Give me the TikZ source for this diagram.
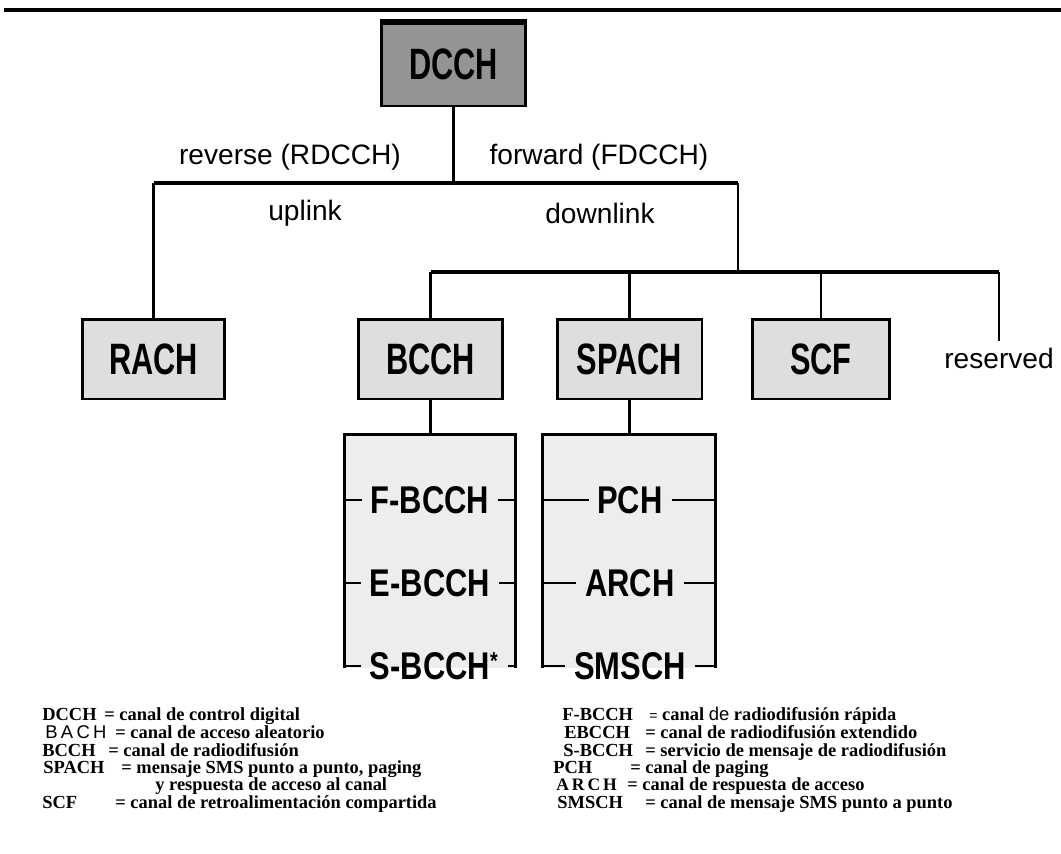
\documentclass[tikz,border=0pt]{standalone}
\usepackage{fontspec}
\setmainfont{Liberation Serif}
\newfontfamily\boxfont[FakeStretch=0.7]{Liberation Sans}
\newfontfamily\itemfont[FakeStretch=0.8]{Liberation Sans}
\newfontfamily\lblfont{Liberation Sans}
\newfontfamily\widefont[LetterSpace=18]{Liberation Sans}
\usetikzlibrary{positioning,calc}

\begin{document}
\begin{tikzpicture}[x=0.02cm, y=-0.02cm,
    chan/.style={draw, line width=1.7pt, fill=black!13, minimum width=2.86cm, minimum height=1.6cm, inner sep=0pt, font=\boxfont\bfseries\fontsize{25}{28}\selectfont},
    list/.style={fill=black!7, minimum width=3.4cm, minimum height=4.66cm, inner sep=0pt},
    sub/.style={inner xsep=0.17cm, inner ysep=0pt, font=\itemfont\bfseries\fontsize{22}{24}\selectfont},
    lbl/.style={font=\lblfont\fontsize{16}{18}\selectfont},
    conn/.style={line width=1.5pt},
    bar/.style={line width=2.4pt},
    key/.style={anchor=base west, inner sep=0pt, font=\bfseries\fontsize{10.5}{12}\selectfont},
    note/.style={anchor=base west, inner sep=0pt, font=\bfseries\fontsize{10.5}{12}\selectfont}
]
\useasboundingbox (0,0) rectangle (1061,853);
\draw[line width=1.9pt] (4,10) -- (1061,10);

\node[chan, fill=black!42, minimum width=2.9cm, minimum height=1.66cm] (dcch) at (453.5,64.5) {DCCH};
\draw[line width=3pt] (dcch.north west) -- (dcch.north east);

\node[lbl] (rev) at (290,157) {reverse (RDCCH)};
\node[lbl] (fwd) at (599,157) {forward (FDCCH)};
\node[lbl] (up) at (305,213) {uplink};
\node[lbl] (down) at (600,213) {downlink};

\coordinate (fork) at (453.5,183);
\coordinate (split) at (738,272);

\node[chan] (rach) at (153.5,359) {RACH};
\node[chan, minimum width=2.9cm] (bcch) at (430.5,359) {BCCH};
\node[chan, minimum width=2.9cm] (spach) at (629.5,359) {SPACH};
\node[chan, minimum width=2.74cm] (scf) at (821,359) {SCF};
\node[lbl] (resv) at (999,358) {reserved};

\draw[conn] (dcch.south) -- (fork);
\draw[bar] (rach.north |- fork) -- (fork -| split);
\draw[conn] (rach.north |- fork) -- (rach.north);
\draw[conn] (fork -| split) -- (split);
\draw[bar] (bcch.north |- split) -- (split -| resv.north);
\foreach \n in {bcch,spach,scf,resv}
    \draw[conn] (\n.north |- split) -- (\n.north);

\node[list] (blist) at (430,551.5) {};
\node[list, minimum width=3.44cm] (slist) at (629,551.5) {};
\draw[conn] (bcch.south) -- (bcch.south |- blist.north);
\draw[conn] (spach.south) -- (spach.south |- slist.north);
\draw[conn] (blist.south west) -- (blist.north west) -- (blist.north east) -- (blist.south east);
\draw[conn] (slist.south west) -- (slist.north west) -- (slist.north east) -- (slist.south east);

\node[sub] (fbcch) at (430,500) {F-BCCH};
\node[sub] (ebcch) at (430,583) {E-BCCH};
\node[sub] (sbcch) at (430,666) {S-BCCH\rlap{\raisebox{0.5ex}{\fontsize{14}{14}\selectfont*}}};
\node[sub] (pch) at (630,500) {PCH};
\node[sub] (arch) at (630,583) {ARCH};
\node[sub] (smsch) at (630,666) {SMSCH};
\foreach \n in {fbcch,ebcch}
    \draw[conn] (blist.west |- \n) -- (\n.west) (\n.east) -- (blist.east |- \n);
\draw[conn] (blist.west |- sbcch) -- (sbcch.west) ($(sbcch.east)+(9,0)$) -- (blist.east |- sbcch);
\foreach \n in {pch,arch,smsch}
    \draw[conn] (slist.west |- \n) -- (\n.west) (\n.east) -- (slist.east |- \n);

\node[key] (kdcch) at (42,720) {DCCH};
\node[note] (ddcch) at (104,720) {= canal de control digital};
\node[key, font=\widefont\fontsize{10.5}{12}\selectfont] (kbach) at (45,738) {BACH};
\node[note] (dbach) at (115,738) {= canal de acceso aleatorio};
\node[key] (kbcch) at (42,756) {BCCH};
\node[note] (dbcch) at (108,756) {= canal de radiodifusión};
\node[key] (kspach) at (43,773) {SPACH};
\node[note] (dspach) at (121,773) {= mensaje SMS punto a punto, paging};
\node[note] (dspach2) at (155,790) {y respuesta de acceso al canal};
\node[key] (kscf) at (42,808) {SCF};
\node[note] (dscf) at (115,808) {= canal de retroalimentación compartida};

\node[key] (kfbcch) at (562,720) {F-BCCH};
\node[note] (dfbcch) at (649,720) {{\lblfont\mdseries\fontsize{8}{10}\selectfont =} canal {\lblfont\mdseries de} radiodifusión rápida};
\node[key] (kebcch) at (564,738) {EBCCH};
\node[note] (debcch) at (645,738) {= canal de radiodifusión extendido};
\node[key] (ksbcch) at (563,756) {S-BCCH};
\node[note] (dsbcch) at (645,756) {= servicio de mensaje de radiodifusión};
\node[key] (kpch) at (553,773) {PCH};
\node[note] (dpch) at (630,773) {= canal de paging};
\node[key, font=\bfseries\fontsize{10}{12}\selectfont] (karch) at (556,790) {A\,R\,C\,H};
\node[note] (darch) at (627,790) {= canal de respuesta de acceso};
\node[key] (ksmsch) at (557,808) {SMSCH};
\node[note] (dsmsch) at (645,808) {= canal de mensaje SMS punto a punto};
\end{tikzpicture}
\end{document}
